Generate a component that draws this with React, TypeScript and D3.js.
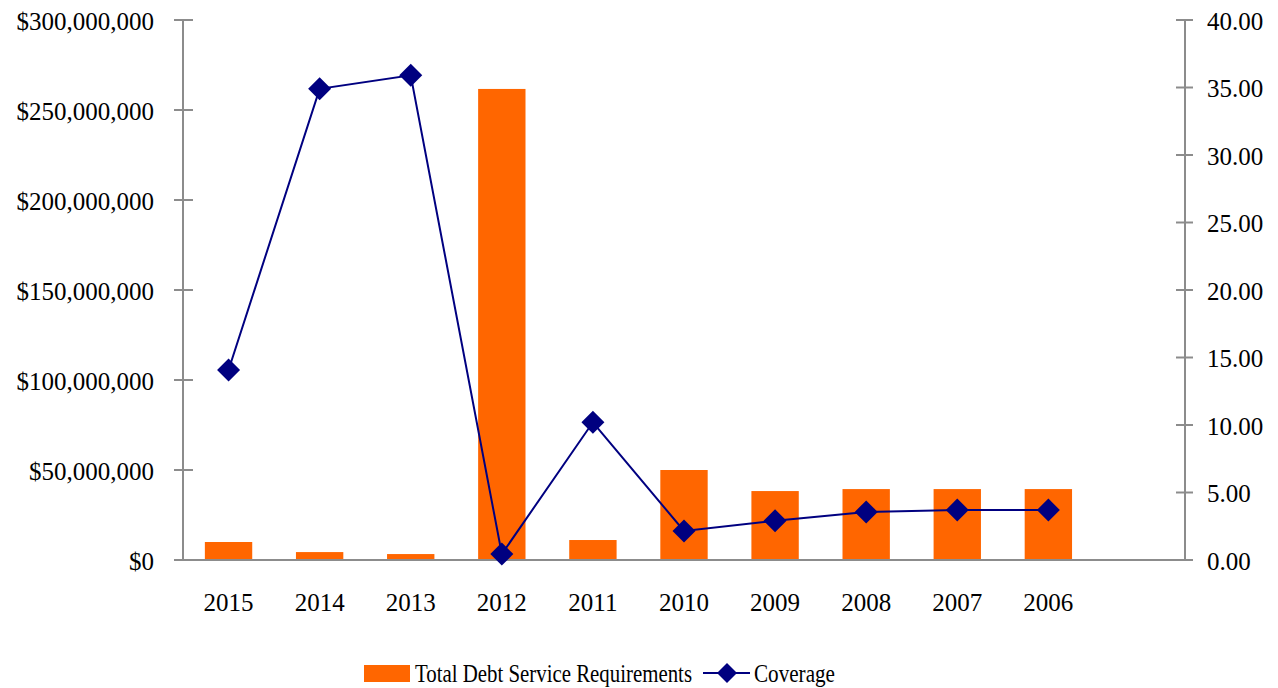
import React from "react";
import * as d3 from "d3";

const years = ["2015", "2014", "2013", "2012", "2011", "2010", "2009", "2008", "2007", "2006"];
const slots = [...years, ""];
const debtService = [10000000, 4400000, 3300000, 261700000, 11100000, 50000000, 38300000, 39400000, 39400000, 39400000];
const coverage = [14.07, 34.9, 35.9, 0.44, 10.2, 2.15, 2.9, 3.56, 3.7, 3.7];
const leftTicks = [0, 50000000, 100000000, 150000000, 200000000, 250000000, 300000000];
const rightTicks = [0, 5, 10, 15, 20, 25, 30, 35, 40];
const seriesNames = ["Total Debt Service Requirements", "Coverage"];

const W = 1278;
const H = 688;
const plotLeft = 183;
const plotRight = 1185;
const plotTop = 20;
const plotBottom = 560;
const FONT = "'Liberation Serif', 'Times New Roman', serif";
const axisColor = "#8c8c8c";
const barColor = "#FF6600";
const lineColor = "#000080";

export default function App() {
  const x = d3.scaleBand<string>().domain(slots).range([plotLeft, plotRight]).padding(0);
  const yL = d3.scaleLinear().domain([0, 300000000]).range([plotBottom, plotTop]);
  const yR = d3.scaleLinear().domain([0, 40]).range([plotBottom, plotTop]);
  const barW = x.bandwidth() * 0.52;
  const cx = (k: string) => (x(k) ?? 0) + x.bandwidth() / 2;
  const fmtL = (v: number) => "$" + d3.format(",")(v);
  const fmtR = d3.format(".2f");
  const line = d3
    .line<number>()
    .x((_, i) => cx(years[i]))
    .y((d) => yR(d));
  const diamond = (px: number, py: number, r: number) =>
    `M${px},${py - r}L${px + r},${py}L${px},${py + r}L${px - r},${py}Z`;

  return (
    <svg width={W} height={H} style={{ position: "absolute", left: 0, top: 0, background: "#fff" }} fontFamily={FONT}>
      {/* bars */}
      {years.map((yr, i) => (
        <rect
          key={yr}
          x={cx(yr) - barW / 2}
          y={yL(debtService[i])}
          width={barW}
          height={plotBottom - yL(debtService[i])}
          fill={barColor}
        />
      ))}
      {/* axes */}
      <line x1={plotLeft} x2={plotLeft} y1={plotTop} y2={plotBottom} stroke={axisColor} strokeWidth={2} />
      <line x1={plotRight} x2={plotRight} y1={plotTop} y2={plotBottom} stroke={axisColor} strokeWidth={2} />
      <line x1={plotLeft - 9} x2={plotRight + 8} y1={plotBottom} y2={plotBottom} stroke={axisColor} strokeWidth={2} />
      {leftTicks.map((t) => (
        <g key={"l" + t}>
          <line x1={plotLeft - 9} x2={plotLeft + 10} y1={yL(t)} y2={yL(t)} stroke={axisColor} strokeWidth={2} />
          <text x={154} y={yL(t)} dy="0.38em" textAnchor="end" fontSize={25} fill="#000">
            {fmtL(t)}
          </text>
        </g>
      ))}
      {rightTicks.map((t) => (
        <g key={"r" + t}>
          <line x1={plotRight - 9} x2={plotRight + 8} y1={yR(t)} y2={yR(t)} stroke={axisColor} strokeWidth={2} />
          <text x={1207} y={yR(t)} dy="0.38em" textAnchor="start" fontSize={25} fill="#000">
            {fmtR(t)}
          </text>
        </g>
      ))}
      {years.map((yr) => (
        <text key={"x" + yr} x={cx(yr)} y={611} textAnchor="middle" fontSize={25} fill="#000">
          {yr}
        </text>
      ))}
      {/* line */}
      <path d={line(coverage) ?? ""} fill="none" stroke={lineColor} strokeWidth={2} />
      {coverage.map((v, i) => (
        <path key={"m" + i} d={diamond(cx(years[i]), yR(v), 11.5)} fill={lineColor} />
      ))}
      {/* legend */}
      <rect x={364} y={665} width={46} height={17} fill={barColor} />
      <text x={415} y={682} fontSize={25} fill="#000" textLength={277} lengthAdjust="spacingAndGlyphs">
        {seriesNames[0]}
      </text>
      <line x1={703} x2={750} y1={673} y2={673} stroke={lineColor} strokeWidth={2} />
      <path d={diamond(727, 673, 10)} fill={lineColor} />
      <text x={754} y={682} fontSize={25} fill="#000" textLength={81} lengthAdjust="spacingAndGlyphs">
        {seriesNames[1]}
      </text>
    </svg>
  );
}
